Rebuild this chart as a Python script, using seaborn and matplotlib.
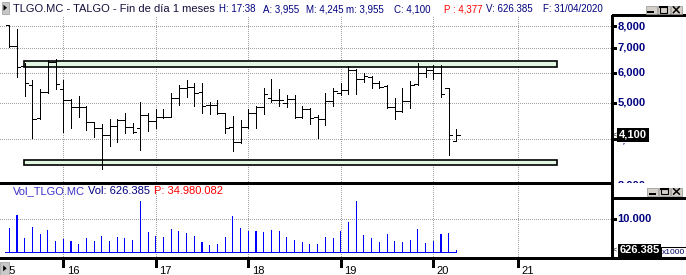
import numpy as np
import pandas as pd
import matplotlib
matplotlib.use("Agg")
import matplotlib.pyplot as plt
import matplotlib.transforms as mtransforms
from matplotlib.patches import Rectangle, Polygon
from matplotlib.lines import Line2D
import seaborn as sns

# ---------------- data (monthly bars, Jun 2015 .. Apr 2020) ----------------
opens = [8.05, 7.08, 6.27, 5.57, 4.56, 5.35, 6.40, 5.43, 5.08, 4.86,
         4.86, 4.43, 4.27, 4.10, 4.33, 4.49, 4.30, 4.27, 4.63, 4.48,
         4.57, 4.57, 5.15, 5.48, 5.51, 5.35, 4.93, 4.93, 4.68, 4.30,
         3.92, 4.30, 4.68, 4.88, 5.13, 5.08, 5.00, 5.10, 4.57, 4.80,
         4.59, 4.51, 5.05, 5.32, 5.40, 6.11, 5.77, 5.84, 5.63, 5.55,
         4.86, 4.76, 5.05, 5.60, 6.01, 6.10, 6.01, 5.46, 3.955]
highs = [8.05, 7.84, 6.36, 5.74, 5.43, 6.50, 6.52, 5.74, 5.10, 5.21,
         4.90, 4.43, 4.38, 4.51, 4.53, 4.68, 4.40, 5.03, 4.70, 4.80,
         4.80, 5.32, 5.57, 5.74, 5.63, 5.63, 5.03, 5.08, 4.70, 4.61,
         4.49, 4.80, 4.90, 5.46, 5.77, 5.43, 5.24, 5.24, 4.90, 4.83,
         4.63, 5.32, 5.46, 5.63, 6.26, 6.13, 5.98, 5.89, 5.71, 5.57,
         5.13, 5.46, 5.71, 6.38, 6.17, 6.30, 6.30, 5.46, 4.245]
lows = [7.05, 5.86, 5.21, 4.02, 4.51, 5.32, 5.43, 4.18, 4.29, 4.59,
        4.23, 4.06, 3.32, 3.83, 3.93, 4.16, 4.14, 3.74, 4.21, 4.27,
        4.54, 4.57, 4.93, 5.19, 4.90, 4.70, 4.65, 4.65, 4.15, 3.72,
        3.90, 4.29, 4.29, 4.66, 5.03, 4.90, 4.86, 4.54, 4.54, 4.38,
        4.02, 4.36, 4.90, 5.24, 5.27, 5.27, 5.69, 5.46, 5.46, 4.83,
        4.51, 4.73, 4.83, 5.57, 5.84, 5.77, 5.17, 3.63, 3.955]
closes = [7.08, 6.21, 5.65, 4.51, 5.35, 6.40, 5.60, 5.08, 4.86, 4.88,
          4.43, 4.27, 4.10, 4.33, 4.49, 4.30, 4.18, 4.63, 4.48, 4.57,
          4.57, 5.15, 5.48, 5.51, 5.32, 4.90, 4.93, 4.68, 4.27, 3.92,
          4.30, 4.68, 4.88, 5.27, 5.08, 5.08, 5.10, 4.57, 4.80, 4.54,
          4.51, 5.05, 5.37, 5.40, 6.11, 5.77, 5.89, 5.63, 5.51, 4.86,
          4.76, 5.05, 5.57, 6.01, 6.11, 6.00, 5.27, 4.10, 4.10]
volumes = [7280, 11295, 4267, 7680, 5572, 6777, 3464, 4166, 3464, 2560,
           4267, 3464, 4970, 3464, 4669, 4367, 3765, 15612, 6175, 4970,
           4669, 7078, 6476, 5873, 4970, 3163, 2259, 2560, 4669, 10994,
           7379, 6576, 6476, 6175, 6777, 6476, 4669, 3765, 3163, 2560,
           2560, 4669, 4367, 6576, 9187, 15612, 5271, 4367, 3163, 5572,
           3464, 3163, 3765, 7078, 2861, 3464, 5572, 5873, 626]  # x1000

year_ticks = [7, 19, 31, 43, 55, 66]
year_labels = ["16", "17", "18", "19", "20", "21"]
price_levels = [8.0, 7.0, 6.0, 5.0, 4.0, 3.0]
price_labels = ["8,000", "7,000", "6,000", "5,000", "4,000", "3,000"]
channel_x = [1.9, 71.1]
channel_upper = [6.24, 6.44]
channel_lower = [3.40, 3.51]
last_price, last_price_label = 4.10, "4,100"
vol_levels, vol_labels = [10000], ["10.000"]
last_vol, last_vol_label = 626.385, "626.385"

title_parts = [("TLGO.MC - TALGO - Fin de día 1 meses", "#14103c"),
               ("H: 17:38", "#000080"), ("A: 3,955", "#000080"),
               ("M: 4,245", "#000080"), ("m: 3,955", "#000080"),
               ("C: 4,100", "#000080"), ("P : 4,377", "#ff0000"),
               ("V: 626.385", "#000080"), ("F: 31/04/2020", "#000080")]
vol_title_parts = [("Vol_TLGO.MC", "#3c32c8"), ("Vol: 626.385", "#000080"),
                   ("P: 34.980.082", "#ff0000")]

# ---------------- layout ----------------
sns.set_theme(style="white")
plt.rcParams['font.family'] = ['Liberation Sans', 'DejaVu Sans']

W, H = 686, 275
fig = plt.figure(figsize=(W / 100, H / 100), dpi=100)
fig.patch.set_facecolor('white')
pxT = mtransforms.Affine2D().scale(1.0 / W, -1.0 / H).translate(0, 1) + fig.transFigure

X0, DX = 9.3, 7.709
XL = (-X0 / DX, (611.7 - X0) / DX)
TOP, SEP, BOT, RIGHT = 15.0, 183.3, 258.3, 611.7


def price_at(py):
    return 4.0 * np.exp((139.0 - py) / 163.0)


ax = fig.add_axes([0, 1 - SEP / H, RIGHT / W, (SEP - TOP) / H])
ax.set_yscale('log')
ax.set_xlim(XL)
ax.set_ylim(price_at(SEP), price_at(TOP))
ax.set_axis_off()

axv = fig.add_axes([0, 1 - BOT / H, RIGHT / W, (BOT - SEP) / H])

GRID = dict(colors='#a0a0a0', linestyles=(0, (1, 2)), lw=0.72, antialiased=False, zorder=0)
ax.hlines(price_levels[:5], XL[0], XL[1], **GRID)
ax.vlines(year_ticks, price_at(SEP), price_at(TOP), **GRID)

# channel rectangles
for lo, hi in (channel_upper, channel_lower):
    ax.add_patch(Rectangle((channel_x[0], lo), channel_x[1] - channel_x[0], hi - lo,
                           fc='#e2f8e2', ec='black', lw=1.2, zorder=1))

# OHLC bars
x = np.arange(len(opens))
BAR = dict(colors='black', lw=0.72, antialiased=False, zorder=3)
ax.vlines(x, lows, highs, **BAR)
ax.hlines(opens, x - 0.45, x, **BAR)
ax.hlines(closes, x, x + 0.45, **BAR)

# volume
df = pd.DataFrame({'idx': x, 'vol': volumes})
sns.barplot(data=df, x='idx', y='vol', native_scale=True, width=0.14, color='#0000ff',
            saturation=1, linewidth=0, errorbar=None, ax=axv, zorder=3)
axv.set_xlim(XL)
axv.set_ylim(-1747, 20843)
axv.set_axis_off()
axv.hlines(vol_levels, XL[0], XL[1], **GRID)
axv.vlines(year_ticks, -1747, 20843, **GRID)
axv.hlines(0, -0.56, len(x) - 1, colors='#0000ff', lw=0.72, antialiased=False, zorder=3)

# frame lines
def pline(xs, ys, **kw):
    d = dict(color='black', lw=0.75, antialiased=False, zorder=5)
    d.update(kw)
    fig.add_artist(Line2D(xs, ys, transform=pxT, **d))

pline([RIGHT, RIGHT], [TOP, BOT])
pline([RIGHT, W], [TOP, TOP])
pline([0, RIGHT], [SEP, SEP])
pline([RIGHT, W], [198.3, 198.3])
pline([0, W], [BOT, BOT])

# right price axis labels
trP = mtransforms.blended_transform_factory(fig.transFigure, ax.transData)
box_bottom_px = 142.6
for lev, lab in zip(price_levels, price_labels):
    t = fig.text(617.3 / W, lev, lab, transform=trP, fontsize=8, fontweight='bold',
                 color='#000080', ha='left', va='center')
    top_clip = box_bottom_px if lev == 4.0 else TOP
    cb = mtransforms.TransformedBbox(
        mtransforms.Bbox.from_extents(RIGHT / W, 1 - SEP / H, 1, 1 - top_clip / H),
        fig.transFigure)
    t.set_clip_box(cb)
    t.set_clip_on(True)
    if lev >= 4.0:
        fig.add_artist(Line2D([RIGHT / W, 616 / W], [lev, lev], transform=trP,
                              color='black', lw=0.75, antialiased=False))
fig.text(618.8 / W, last_price, last_price_label, transform=trP, fontsize=8,
         fontweight='bold', color='white', ha='left', va='center', zorder=6,
         bbox=dict(boxstyle='square,pad=0.18', fc='black', ec='none'))
fig.text(612.3 / W, last_price, "<", transform=trP, fontsize=5, color='black',
         ha='left', va='center')

# right volume axis labels
trV = mtransforms.blended_transform_factory(fig.transFigure, axv.transData)
for lev, lab in zip(vol_levels, vol_labels):
    fig.text(617.3 / W, lev, lab, transform=trV, fontsize=8, fontweight='bold',
             color='#000080', ha='left', va='center')
    fig.add_artist(Line2D([RIGHT / W, 616 / W], [lev, lev], transform=trV,
                          color='black', lw=0.75, antialiased=False))
fig.text(619.5 / W, last_vol, last_vol_label, transform=trV, fontsize=8,
         fontweight='bold', color='white', ha='left', va='center', zorder=6,
         bbox=dict(boxstyle='square,pad=0.15', fc='black', ec='none'))
fig.text(612.3 / W, last_vol, "<", transform=trV, fontsize=5, color='black',
         ha='left', va='center')
fig.add_artist(Rectangle((660.5, 246.7), 25, 10.6, transform=pxT, fc='white',
                         ec='black', lw=0.75, zorder=5))
fig.text(661.6 / W, 1 - 252 / H, "x1000", fontsize=6, color='#000060',
         ha='left', va='center', zorder=6)

# x axis ticks and labels
trX = mtransforms.blended_transform_factory(axv.transData, pxT)
off = mtransforms.ScaledTranslation(3.4 / 100, 0, fig.dpi_scale_trans)
for t, lab in zip(year_ticks, year_labels):
    fig.add_artist(Line2D([t, t], [BOT, 266.7], transform=trX, color='black',
                          lw=0.75, antialiased=False))
    fig.text(t, 273.5, lab, transform=trX + off, fontsize=8, color='black',
             ha='left', va='baseline')
fig.text(3.2 / W, 1 - 273.5 / H, "15", fontsize=8, color='black', ha='left', va='baseline')

# titles
title_x = [13.3, 219.3, 263.3, 306.0, 346.0, 394.0, 444.3, 485.7, 543.3]
for i, ((txt, col), px) in enumerate(zip(title_parts, title_x)):
    fig.text(px / W, 1 - 12.3 / H, txt, fontsize=8 if i == 0 else 7.0, color=col,
             ha='left', va='baseline')
vol_title_x = [13.3, 88.3, 154.0]
for (txt, col), px in zip(vol_title_parts, vol_title_x):
    fig.text(px / W, 1 - 194.0 / H, txt, fontsize=8, color=col, ha='left', va='baseline')

# window buttons
def button_set(x0, y0, bw, bh):
    for k in range(3):
        bx = x0 + k * (bw + 1)
        fig.add_artist(Rectangle((bx, y0), bw, bh, transform=pxT, fc='#d4d0c8',
                                 ec='#909090', lw=0.5, zorder=7))
        cx = bx + bw / 2
        if k == 0:
            pline([cx - 3, cx + 2], [y0 + bh - 2, y0 + bh - 2], lw=1.4, zorder=8)
        elif k == 1:
            fig.add_artist(Rectangle((cx - 3.5, y0 + 1), 7, bh - 2.5, transform=pxT,
                                     fc='none', ec='black', lw=0.8, zorder=8))
            pline([cx - 3.5, cx + 3.5], [y0 + 1.5, y0 + 1.5], lw=1.2, zorder=8)
        else:
            pline([cx - 3, cx + 3], [y0 + 1.2, y0 + bh - 1.2], lw=1.1, zorder=8, antialiased=True)
            pline([cx - 3, cx + 3], [y0 + bh - 1.2, y0 + 1.2], lw=1.1, zorder=8, antialiased=True)

button_set(645.5, 5.5, 11.5, 8.5)
button_set(647.0, 187.5, 11, 8)

def play_button(x0, y0, bw, bh):
    fig.add_artist(Rectangle((x0, y0), bw, bh, transform=pxT, fc='#c8c8c8',
                             ec='#9a9a9a', lw=0.5, zorder=9))
    cx, cy = x0 + bw / 2, y0 + bh / 2
    fig.add_artist(Polygon([(cx - 1.5, cy - 3), (cx - 1.5, cy + 3), (cx + 2, cy)],
                           closed=True, transform=pxT, fc='black', ec='none', zorder=10))

play_button(1.5, 2.0, 7.0, 11.5)
play_button(0.0, 261.7, 9.3, 13.3)

fig.savefig("out.png", dpi=100, facecolor='white')
